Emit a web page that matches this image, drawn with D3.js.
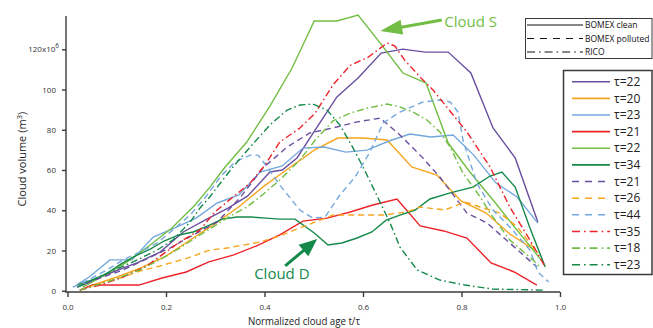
<!DOCTYPE html>
<html>
<head>
<meta charset="utf-8">
<script src="https://cdn.jsdelivr.net/npm/d3@7"></script>
<style>
  body { margin: 0; background: #fff; }
  svg { display: block; }
  text { font-family: "Open Sans", "DejaVu Sans", sans-serif; }
</style>
</head>
<body>
<svg id="chart" width="653" height="328"></svg>
<script>
// ---- axis ticks ----
const xTicks = [0, 0.2, 0.4, 0.6, 0.8, 1.0];
const xTickLabels = ["0.0", "0.2", "0.4", "0.6", "0.8", "1.0"];
const yTicks = [0, 20, 40, 60, 80, 100, 120];
const yTickLabels = ["0", "20", "40", "60", "80", "100", "120x10"];

// ---- cases and legend labels ----
const caseNames = ["BOMEX clean", "BOMEX polluted", "RICO"];
const seriesTau = [22, 20, 23, 21, 22, 34, 21, 26, 44, 35, 18, 23];
const seriesCase = [0, 0, 0, 0, 0, 0, 1, 1, 1, 2, 2, 2];

// ---- cloud volume (10^6 m^3) vs normalized age t/tau ----
const clean22a = [[0.031,2.8],[0.052,5.3],[0.092,9.3],[0.141,13.8],[0.188,19.2],[0.235,29.2],[0.279,35.1],[0.326,41.1],[0.366,47.1],[0.411,59.0],[0.436,60.0],[0.466,66.0],[0.503,79.9],[0.547,96.3],[0.590,105.7],[0.637,118.1],[0.681,120.1],[0.726,118.6],[0.773,118.6],[0.819,108.2],[0.864,80.9],[0.909,66.0],[0.955,34.1]];
const clean20 = [[0.050,2.8],[0.101,6.8],[0.149,11.3],[0.200,17.2],[0.249,25.2],[0.299,33.2],[0.350,42.1],[0.399,52.0],[0.450,61.0],[0.501,69.9],[0.549,75.9],[0.600,75.9],[0.649,74.9],[0.699,61.5],[0.750,57.5],[0.799,44.6],[0.850,38.6],[0.898,28.2],[0.949,20.2]];
const clean23 = [[0.021,3.3],[0.044,6.8],[0.086,15.3],[0.131,15.3],[0.174,26.7],[0.218,31.2],[0.261,36.1],[0.304,43.6],[0.348,47.6],[0.391,59.0],[0.436,62.0],[0.478,70.9],[0.521,71.4],[0.565,68.9],[0.608,69.9],[0.653,74.4],[0.695,77.9],[0.738,76.4],[0.783,77.4],[0.825,67.4],[0.870,53.5],[0.913,46.6],[0.955,33.6]];
const clean21 = [[0.025,0.3],[0.050,2.8],[0.096,2.8],[0.145,2.8],[0.192,6.3],[0.241,9.3],[0.287,14.3],[0.336,17.7],[0.383,22.2],[0.431,27.7],[0.478,34.6],[0.527,36.1],[0.574,39.1],[0.620,42.6],[0.669,45.6],[0.716,32.2],[0.764,29.7],[0.811,26.2],[0.860,13.8],[0.907,9.3],[0.953,2.8]];
const clean22b = [[0.031,1.8],[0.076,7.8],[0.121,14.3],[0.168,22.7],[0.212,31.2],[0.259,42.6],[0.289,51.5],[0.320,61.5],[0.364,73.9],[0.411,91.8],[0.456,110.7],[0.501,134.1],[0.547,134.1],[0.590,137.0],[0.635,123.1],[0.681,108.2],[0.728,103.2],[0.773,73.4],[0.817,59.0],[0.864,45.1],[0.909,31.2],[0.965,14.3]];
const clean34 = [[0.019,2.8],[0.050,5.3],[0.078,8.3],[0.109,13.3],[0.137,17.2],[0.168,20.7],[0.196,24.7],[0.226,27.7],[0.255,29.2],[0.285,32.2],[0.314,35.6],[0.344,36.6],[0.373,36.6],[0.403,36.1],[0.431,35.6],[0.462,35.6],[0.501,28.7],[0.529,22.7],[0.557,23.7],[0.588,26.2],[0.618,29.2],[0.647,35.1],[0.675,37.6],[0.706,40.1],[0.736,45.6],[0.777,48.6],[0.823,51.5],[0.858,57.0],[0.882,59.0],[0.909,51.5],[0.939,31.2],[0.970,11.8]];
const polluted21 = [[0.019,1.8],[0.066,6.3],[0.113,10.3],[0.161,15.8],[0.208,21.2],[0.255,27.7],[0.304,34.1],[0.350,46.1],[0.397,61.0],[0.446,71.4],[0.492,78.4],[0.539,80.9],[0.588,83.9],[0.635,85.8],[0.675,77.4],[0.720,66.4],[0.756,56.5],[0.811,38.6],[0.852,33.6],[0.898,23.7],[0.953,11.8]];
const polluted26 = [[0.025,0.3],[0.066,3.8],[0.107,6.3],[0.147,9.8],[0.188,12.3],[0.245,16.3],[0.289,20.2],[0.324,21.2],[0.391,24.2],[0.431,27.2],[0.472,31.2],[0.513,35.1],[0.539,37.6],[0.588,37.6],[0.641,37.6],[0.689,39.1],[0.716,41.6],[0.766,40.1],[0.807,44.1],[0.838,41.6],[0.878,38.6],[0.913,31.7],[0.955,18.7]];
const polluted44 = [[0.011,1.8],[0.046,5.8],[0.080,10.3],[0.113,15.3],[0.147,19.2],[0.182,23.7],[0.214,30.2],[0.249,37.6],[0.279,46.1],[0.310,56.5],[0.340,64.0],[0.371,67.4],[0.387,67.4],[0.407,61.0],[0.431,52.5],[0.452,46.1],[0.472,40.1],[0.498,36.1],[0.523,36.6],[0.553,47.6],[0.584,56.5],[0.614,68.9],[0.641,83.4],[0.675,88.8],[0.722,93.8],[0.756,94.8],[0.777,93.8],[0.793,88.8],[0.803,74.9],[0.831,53.5],[0.864,40.1],[0.898,31.7],[0.939,20.2],[0.955,9.3],[0.977,4.3]];
const rico35 = [[0.025,0.3],[0.066,2.8],[0.113,6.8],[0.161,12.3],[0.194,18.2],[0.228,24.2],[0.269,30.2],[0.299,39.1],[0.336,46.6],[0.371,53.5],[0.401,62.5],[0.431,73.9],[0.472,80.9],[0.503,88.3],[0.539,102.3],[0.574,112.0],[0.610,116.0],[0.649,123.1],[0.665,121.6],[0.685,114.5],[0.716,106.2],[0.742,99.8],[0.770,91.3],[0.811,78.9],[0.858,61.5],[0.898,41.6],[0.939,25.2],[0.970,11.8]];
const rico18 = [[0.025,0.3],[0.086,4.8],[0.147,10.3],[0.194,16.3],[0.228,21.2],[0.269,27.7],[0.299,32.2],[0.330,37.1],[0.364,41.6],[0.391,46.6],[0.431,55.0],[0.472,65.0],[0.503,74.9],[0.539,84.4],[0.574,88.3],[0.610,90.8],[0.649,92.8],[0.675,91.3],[0.702,88.8],[0.730,84.8],[0.756,78.9],[0.777,71.4],[0.803,58.5],[0.838,46.6],[0.858,38.6],[0.898,25.2],[0.945,15.3],[0.959,11.8]];
const rico23 = [[0.021,1.8],[0.046,4.8],[0.086,9.3],[0.133,14.3],[0.182,20.2],[0.214,25.2],[0.249,34.1],[0.269,41.1],[0.289,46.6],[0.304,51.5],[0.336,61.5],[0.371,71.4],[0.411,82.4],[0.446,89.8],[0.472,92.3],[0.498,92.8],[0.527,89.8],[0.553,82.4],[0.580,70.9],[0.600,61.5],[0.620,51.5],[0.655,33.6],[0.675,21.7],[0.710,10.3],[0.756,5.3],[0.807,2.8],[0.864,0.8],[0.965,0.3]];

const allSeries = [clean22a, clean20, clean23, clean21, clean22b, clean34,
                   polluted21, polluted26, polluted44, rico35, rico18, rico23];

// ---- styles ----
const palette = ["#6a4fa0", "#f7a51f", "#74a8dc", "#ec2329", "#72be44", "#14894a",
                 "#6a4fa0", "#f7a51f", "#74a8dc", "#ec2329", "#72be44", "#14894a"];
const caseDash = [null, "6,4", "7,3,1.6,3"];
const legendDash = [null, "7,6", "8,4,1.6,4"];
const axisColor = "#3a3a3a";

const svg = d3.select("#chart");
const x = d3.scaleLinear().domain([0, 1]).range([67.5, 560]);
const y = d3.scaleLinear().domain([0, 136.5]).range([290.7, 16.1]);

// ---- axes ----
const gy = svg.append("g").attr("transform", "translate(66,0)")
  .call(d3.axisLeft(y).tickValues(yTicks).tickSize(4).tickSizeOuter(0)
        .tickPadding(6).tickFormat((d, i) => yTickLabels[i]));
gy.select(".domain").attr("d", `M0,${y.range()[1]}V292`);

const gx = svg.append("g").attr("transform", "translate(0,292)")
  .call(d3.axisBottom(x).tickValues(xTicks).tickSize(5).tickSizeOuter(0)
        .tickPadding(7).tickFormat((d, i) => xTickLabels[i]));
gx.select(".domain").attr("d", `M65,0H${x(1)}`);

[gx, gy].forEach(g => {
  g.selectAll(".domain, .tick line").attr("stroke", axisColor).attr("stroke-width", 1.4);
  g.selectAll(".tick text").attr("fill", "#333").attr("font-size", 8)
    .attr("font-family", "'Open Sans', sans-serif");
});
// exponent on the top tick label
gy.selectAll(".tick text").filter(d => d === 120)
  .append("tspan").attr("dy", -4).attr("font-size", 6.5).text("6");
gy.selectAll(".tick text").filter(d => d === 120).attr("dx", 3);

// axis titles
const yTitle = svg.append("text")
  .attr("transform", "translate(26,159) rotate(-90)")
  .attr("text-anchor", "middle").attr("font-size", 11).attr("fill", "#222");
yTitle.append("tspan").text("Cloud volume (m");
yTitle.append("tspan").attr("dy", -4).attr("font-size", 8).text("3");
yTitle.append("tspan").attr("dy", 4).text(")");

svg.append("text").attr("x", 304).attr("y", 325)
  .attr("text-anchor", "middle").attr("font-size", 10.5).attr("fill", "#222")
  .attr("textLength", 112).attr("lengthAdjust", "spacingAndGlyphs")
  .text("Normalized cloud  age t/\u03c4");

// ---- series ----
const line = d3.line().x(d => x(d[0])).y(d => y(d[1]));
svg.append("g").selectAll("path").data(allSeries).join("path")
  .attr("d", line)
  .attr("fill", "none")
  .attr("stroke", (d, i) => palette[i])
  .attr("stroke-width", 1.4)
  .attr("stroke-dasharray", (d, i) => caseDash[seriesCase[i]]);

// ---- annotations ----
function arrow(tail, tip, color, headLen, headHalf, width) {
  const x0 = x(tail[0]), y0 = y(tail[1]), x1 = x(tip[0]), y1 = y(tip[1]);
  const dx = x1 - x0, dy = y1 - y0, L = Math.hypot(dx, dy);
  const ux = dx / L, uy = dy / L;
  const bx = x1 - ux * headLen, by = y1 - uy * headLen;
  svg.append("line").attr("x1", x0).attr("y1", y0).attr("x2", bx + ux * 2).attr("y2", by + uy * 2)
    .attr("stroke", color).attr("stroke-width", width);
  svg.append("path")
    .attr("d", `M${x1},${y1}L${bx - uy * headHalf},${by + ux * headHalf}L${bx + uy * headHalf},${by - ux * headHalf}Z`)
    .attr("fill", color);
}
arrow([0.760, 134.6], [0.635, 129.1], "#72be44", 22, 7.5, 3);
svg.append("text").attr("x", x(0.765)).attr("y", y(131.2))
  .attr("font-size", 15).attr("fill", "#72be44").text("Cloud S");

arrow([0.442, 12.3], [0.507, 25.7], "#14894a", 18, 7.5, 3);
svg.append("text").attr("x", x(0.379)).attr("y", y(5.6))
  .attr("font-size", 15).attr("fill", "#14894a").text("Cloud D");

// ---- legend: cases (line styles) ----
const lg1 = svg.append("g");
lg1.append("rect").attr("x", 525.5).attr("y", 18.5).attr("width", 126.5).attr("height", 40)
  .attr("fill", "#fff").attr("stroke", axisColor).attr("stroke-width", 1);
caseNames.forEach((name, i) => {
  const yy = 25 + i * 13.5;
  lg1.append("line").attr("x1", 527).attr("x2", 583).attr("y1", yy).attr("y2", yy)
    .attr("stroke", "#111").attr("stroke-width", 1).attr("stroke-dasharray", legendDash[i]);
  lg1.append("text").attr("x", 585).attr("y", yy + 3.2).attr("font-size", 8.5)
    .attr("fill", "#111").text(name);
});

// ---- legend: individual clouds ----
const lg2 = svg.append("g");
lg2.append("rect").attr("x", 563.5).attr("y", 70.5).attr("width", 88.5).attr("height", 204)
  .attr("fill", "#fff").attr("stroke", axisColor).attr("stroke-width", 1.5);
seriesTau.forEach((tau, i) => {
  const yy = 81.7 + i * 16.64;
  lg2.append("line").attr("x1", 572).attr("x2", 610).attr("y1", yy).attr("y2", yy)
    .attr("stroke", palette[i]).attr("stroke-width", 1.6)
    .attr("stroke-dasharray", legendDash[seriesCase[i]]);
  lg2.append("text").attr("x", 614).attr("y", yy + 4.2).attr("font-size", 12)
    .attr("fill", "#222").text("\u03c4=" + tau);
});
</script>
</body>
</html>
